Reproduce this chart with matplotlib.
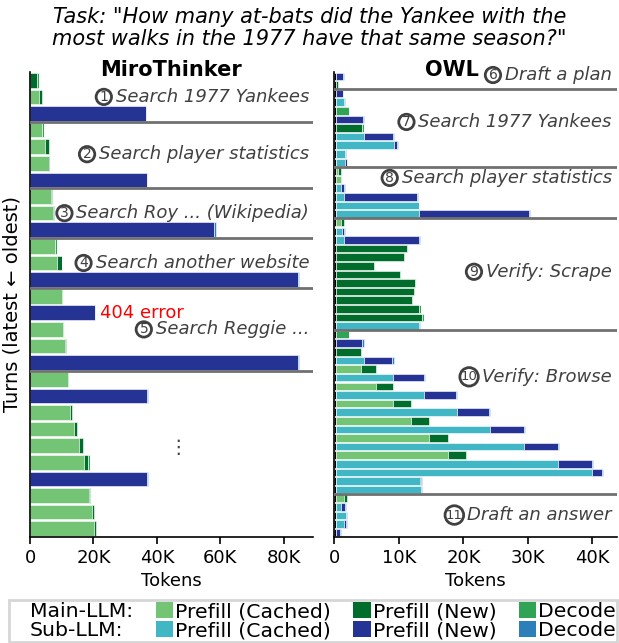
import matplotlib
matplotlib.use("Agg")
import matplotlib.pyplot as plt
from matplotlib.patches import Patch
import numpy as np

# colours
C_MAIN_CACHED = '#74c476'
C_MAIN_NEW = '#006d2c'
C_MAIN_DEC = '#31a354'
C_SUB_CACHED = '#41b6c4'
C_SUB_NEW = '#253494'
C_SUB_DEC = '#2c7fb8'
TXT = '#404040'

# ---- MiroThinker turns (K tokens), top = oldest ----
mt_main_cached = [0, 2.7, 0, 3.9, 4.6, 5.9, 0, 6.5, 7.2, 0, 8.0, 8.5, 0, 10.1, 0, 10.4, 10.9, 0,
                  12.0, 0, 12.6, 13.8, 15.5, 16.9, 0, 18.7, 19.5, 20.1]
mt_main_new = [2.2, 0.95, 0, 0, 1.3, 0.3, 0, 0.5, 0.4, 0, 0, 1.5, 0, 0, 0, 0, 0.6, 0,
               0, 0, 0.7, 0.9, 1.2, 1.3, 0, 0.2, 0.6, 0.7]
mt_main_dec = [0.5, 0.5, 0, 0.6, 0.3, 0.2, 0, 0.4, 0.3, 0, 0.5, 0.2, 0, 0.3, 0, 0.3, 0.2, 0,
               0.3, 0, 0.3, 0.5, 0.2, 0.6, 0, 0.4, 0.3, 0.2]
mt_sub_cached = [0] * 28
mt_sub_new = [0, 0, 36.5, 0, 0, 0, 36.8, 0, 0, 57.9, 0, 0, 84.6, 0, 20.5, 0, 0, 84.6,
              0, 36.8, 0, 0, 0, 0, 36.8, 0, 0, 0]
mt_sub_dec = [0, 0, 0.2, 0, 0, 0, 0.2, 0, 0, 0.6, 0, 0, 0.3, 0, 0.1, 0, 0, 0.3,
              0, 0.4, 0, 0, 0, 0, 0.5, 0, 0, 0]
mt_breaks = [3, 7, 10, 13, 18]
mt_steps = [('1', 'Search 1977 Yankees', 1.0),
            ('2', 'Search player statistics', 4.45),
            ('3', 'Search Roy ... (Wikipedia)', 8.0),
            ('4', 'Search another website', 11.0),
            ('5', 'Search Reggie ...', 15.0)]

# ---- OWL turns (K tokens) ----
owl_base = [0.2] * 54
owl_main_cached = [0, 0, 0, 0, 0, 0, 0, 0, 0, 0, 0,
                   0.36, 0.83, 0, 0, 0, 0,
                   0.83, 0, 0, 0, 0, 0, 0, 0, 0, 0, 0, 0, 0,
                   0, 0, 0, 0, 3.88, 0, 6.25, 0, 8.89, 0, 11.68, 0, 14.47, 0, 17.42, 0, 0, 0, 0,
                   1.29, 0, 0, 0, 0]
owl_main_new = [0, 0.36, 0, 0, 0, 0, 4.08, 0, 0, 0, 0,
                0.47, 0, 0, 0, 0, 0,
                0.47, 0, 0, 11.11, 10.65, 5.99, 10.03, 12.35, 12.2, 11.83, 12.97, 13.39, 0,
                0, 0, 3.98, 0, 2.43, 0, 2.69, 0, 2.84, 0, 2.84, 0, 2.95, 0, 2.84, 0, 0, 0, 0,
                0.41, 0, 0, 0, 0]
owl_main_dec = [0, 0.1, 0, 0, 2.02, 0, 0.26, 0, 0, 0, 0,
                0.15, 0.15, 0, 0, 0, 0,
                0.15, 0, 0, 0.1, 0.1, 0.1, 0.1, 0.1, 0.1, 0.1, 0.26, 0.31, 0,
                2.02, 0, 0.1, 0, 0.1, 0, 0.1, 0, 0.1, 0, 0.1, 0, 0.1, 0, 0.1, 0, 0, 0, 0,
                0.15, 0, 0, 0, 0]
owl_sub_cached = [0, 0, 0, 1.29, 0, 0, 0, 4.34, 8.99, 1.5, 1.5,
                  0, 0, 0.83, 1.29, 12.87, 12.92,
                  0, 0.98, 1.29, 0, 0, 0, 0, 0, 0, 0, 0, 0, 12.97,
                  0, 0, 0, 4.34, 0, 8.89, 0, 13.7, 0, 18.81, 0, 23.93, 0, 29.2, 0, 34.47, 39.74, 13.02, 13.28,
                  0, 0.83, 1.55, 1.29, 0]
owl_sub_new = [1.09, 0, 1.09, 0, 0, 4.24, 0, 4.55, 0.52, 0, 0.2,
               0, 0, 0.52, 11.37, 0, 17.05,
               0, 0.36, 11.68, 0, 0, 0, 0, 0, 0, 0, 0, 0, 0,
               0, 4.13, 0, 4.39, 0, 4.81, 0, 4.96, 0, 5.01, 0, 5.32, 0, 5.32, 0, 5.32, 1.6, 0.2, 0,
               0, 0.62, 0, 0.31, 0.67]
owl_sub_dec = [0.15, 0, 0.1, 0.1, 0, 0.1, 0, 0.1, 0.1, 0.1, 0.05,
               0, 0, 0.1, 0.1, 0.05, 0.15,
               0, 0.1, 0.1, 0, 0, 0, 0, 0, 0, 0, 0, 0, 0.1,
               0, 0.26, 0, 0.26, 0, 0.2, 0, 0.15, 0, 0.1, 0, 0.1, 0, 0.1, 0, 0.1, 0.1, 0.1, 0.1,
               0, 0.1, 0.15, 0.1, 0.15]
owl_breaks = [2, 11, 17, 30, 49]
owl_steps = [('6', 'Draft a plan', -0.15),
             ('7', 'Search 1977 Yankees', 5.3),
             ('8', 'Search player statistics', 11.8),
             ('9', 'Verify: Scrape', 22.7),
             ('10', 'Verify: Browse', 34.9),
             ('11', 'Draft an answer', 50.95)]


def draw_stack(ax, segments, colors):
    n = len(segments[0])
    y = np.arange(n)
    left = np.zeros(n)
    for vals, col in zip(segments, colors):
        v = np.array(vals, dtype=float)
        ax.barh(y, v, left=left, height=0.88, color=col, edgecolor='white',
                linewidth=0.4)
        left += v
    ax.set_ylim(n - 0.5, -0.5)


def style_axes(ax, xmax, ticks, labels):
    ax.set_xlim(0, xmax)
    ax.set_xticks(ticks)
    ax.set_xticklabels(labels, fontsize=13)
    ax.set_yticks([])
    for s in ['top', 'right']:
        ax.spines[s].set_visible(False)
    ax.spines['left'].set_linewidth(1.2)
    ax.spines['bottom'].set_linewidth(1.2)
    ax.tick_params(axis='x', length=5, width=1.2)
    ax.set_xlabel('Tokens', fontsize=13)


fig = plt.figure(figsize=(6.19, 6.43), dpi=100)
ax1 = fig.add_axes([30 / 619, 106 / 643, 283 / 619, 465 / 643])
ax2 = fig.add_axes([334.3 / 619, 106 / 643, 282.7 / 619, 465 / 643])

mt_colors = [C_MAIN_CACHED, C_MAIN_NEW, C_MAIN_DEC, C_SUB_CACHED, C_SUB_NEW, C_SUB_DEC]
draw_stack(ax1, [mt_main_cached, mt_main_new, mt_main_dec,
                 mt_sub_cached, mt_sub_new, mt_sub_dec], mt_colors)
draw_stack(ax2, [owl_base, owl_main_cached, owl_main_new, owl_main_dec,
                 owl_sub_cached, owl_sub_new, owl_sub_dec], ['black'] + mt_colors)

style_axes(ax1, 89.2, [0, 20, 40, 60, 80], ['0', '20K', '40K', '60K', '80K'])
style_axes(ax2, 43.8, [0, 10, 20, 30, 40], ['0', '10K', '20K', '30K', '40K'])

for ax, breaks in [(ax1, mt_breaks), (ax2, owl_breaks)]:
    for b in breaks:
        ax.axhline(b - 0.5, color='#707070', lw=2, zorder=3)

ax1.set_ylabel('Turns (latest \u2190 oldest)', fontsize=14, labelpad=6)

fig.canvas.draw()
renderer = fig.canvas.get_renderer()


def step_label(ax, num, text, y, xr):
    t = ax.text(xr, y, text, ha='right', va='center', style='italic',
                fontsize=13, color=TXT, zorder=5)
    bb = t.get_window_extent(renderer)
    inv = ax.transData.inverted()
    gap = 12 if len(num) == 1 else 13
    x0 = inv.transform((bb.x0 - gap, 0))[0]
    ax.text(x0, y, num, ha='center', va='center', fontsize=10 if len(num) == 1 else 9.5,
            color=TXT, zorder=6,
            bbox=dict(boxstyle='circle,pad=0.05' if len(num) == 1 else 'circle,pad=0.06',
                      fc='white', ec=TXT, lw=2))


for num, text, y in mt_steps:
    step_label(ax1, num, text, y, 88.0)
for num, text, y in owl_steps:
    step_label(ax2, num, text, y, 43.0)

ax1.text(22.0, 14, '404 error', color='red', fontsize=13, ha='left', va='center')
ax1.text(46.8, 22.1, '\u22ee', color=TXT, fontsize=14, ha='center', va='center')

fig.text(171 / 619, 1 - 70 / 643, 'MiroThinker', fontsize=15, fontweight='bold',
         ha='center', va='center')
fig.text(452 / 619, 1 - 70 / 643, 'OWL', fontsize=15, fontweight='bold',
         ha='center', va='center')

fig.text(0.5, 1 - 28 / 643,
         'Task: "How many at-bats did the Yankee with the\n'
         'most walks in the 1977 have that same season?"',
         ha='center', va='center', style='italic', fontsize=15, linespacing=1.15)

blank = Patch(fc='none', ec='none')
handles = [blank, blank,
           Patch(fc=C_MAIN_CACHED), Patch(fc=C_SUB_CACHED),
           Patch(fc=C_MAIN_NEW), Patch(fc=C_SUB_NEW),
           Patch(fc=C_MAIN_DEC), Patch(fc=C_SUB_DEC)]
labels = ['Main-LLM:', 'Sub-LLM:',
          'Prefill (Cached)', 'Prefill (Cached)',
          'Prefill (New)', 'Prefill (New)',
          'Decode', 'Decode']
leg = fig.legend(handles, labels, ncol=4, loc='lower left',
                 bbox_to_anchor=(9 / 619, 1 / 643), borderaxespad=0, fontsize=14.7,
                 handlelength=0.85, handleheight=0.85, handletextpad=0.1,
                 columnspacing=1.1, borderpad=0.08, labelspacing=0.0,
                 fancybox=False, edgecolor='#cccccc')
leg.get_frame().set_linewidth(2)

fig.savefig('out.png', dpi=100)
